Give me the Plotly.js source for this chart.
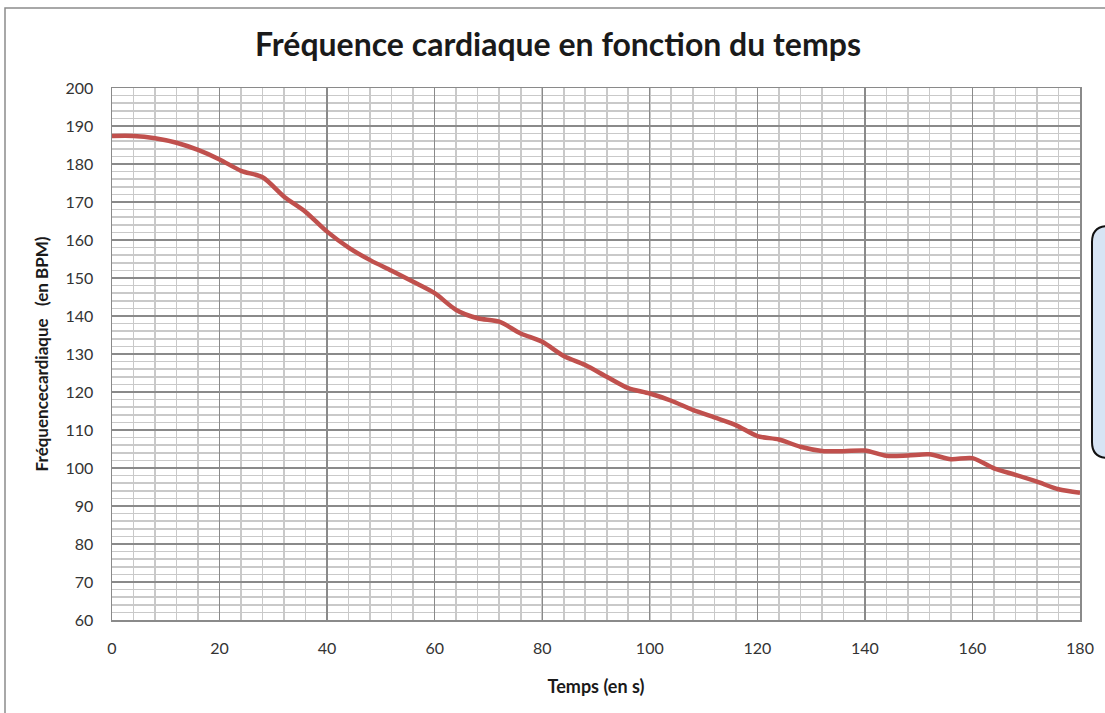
<!DOCTYPE html>
<html>
<head>
<meta charset="utf-8">
<script src="https://cdn.plot.ly/plotly-3.0.1.min.js"></script>
<style>html,body{margin:0;padding:0;background:#fff;}#chart{width:1105px;height:713px;}</style>
</head>
<body>
<div id="chart"></div>
<script>
// Data
const temps = [0,4,8,12,16,20,24,28,32,36,40,44,48,52,56,60,64,68,72,76,80,84,88,92,96,100,104,108,112,116,120,124,128,132,136,140,144,148,152,156,160,164,168,172,176,180];
const frequence = [187.4,187.4,186.8,185.6,183.7,181.2,178.2,176.5,171.4,167.4,162.2,158,154.7,151.9,149,146,141.6,139.4,138.5,135.4,133.2,129.5,127.1,124,121,119.6,117.7,115.3,113.3,111.3,108.4,107.5,105.6,104.5,104.4,104.6,103.2,103.3,103.6,102.3,102.6,99.9,98.2,96.4,94.4,93.5];
const xTicks = [0,20,40,60,80,100,120,140,160,180];
const yTicks = [60,70,80,90,100,110,120,130,140,150,160,170,180,190,200];

const FONT = 'Lato, "Open Sans", sans-serif';
const L = 112, R = 1080, T = 88, B = 620;
const px = v => (v - L) / (R - L);
const py = v => (B - v) / (B - T);

const trace = {
  x: temps, y: frequence, type: 'scatter', mode: 'lines',
  line: {color: '#C0504D', width: 4.5, shape: 'spline', smoothing: 0.8},
  hoverinfo: 'skip', showlegend: false
};

// rounded box at right (partly cut off)
const bx0 = px(1092), bx1 = px(1130), by0 = py(458), by1 = py(226);
const rx = 16 / (R - L), ry = 16 / (B - T);
const boxPath = `M ${bx1} ${by1} L ${bx0 + rx} ${by1} Q ${bx0} ${by1} ${bx0} ${by1 - ry} L ${bx0} ${by0 + ry} Q ${bx0} ${by0} ${bx0 + rx} ${by0} L ${bx1} ${by0} Z`;

const layout = {
  width: 1105, height: 713,
  margin: {l: L, r: 1105 - R, t: T, b: 713 - B, pad: 0},
  paper_bgcolor: '#ffffff', plot_bgcolor: '#ffffff',
  font: {family: FONT, color: '#333333', size: 16},
  title: {
    text: '<b>Fréquence cardiaque en fonction du temps</b>',
    font: {family: FONT, size: 32, color: '#1a1a1a'},
    x: 558 / 1105, xref: 'container', xanchor: 'center',
    y: 1 - 45 / 713, yref: 'container', yanchor: 'middle'
  },
  xaxis: {
    range: [0, 180], tickvals: xTicks, ticktext: xTicks.map(String),
    showgrid: true, gridcolor: '#8a8a8a', gridwidth: 1.3,
    minor: {dtick: 4, tick0: 0, showgrid: true, gridcolor: '#c9c9c9', gridwidth: 1.6, ticks: ''},
    showline: true, linecolor: '#8a8a8a', linewidth: 1.5, mirror: true,
    ticks: '', ticklabelstandoff: 13, zeroline: false,
    tickfont: {family: FONT, size: 16, color: '#333333'},
    title: {text: '<b>Temps (en s)</b>', font: {family: FONT, size: 18, color: '#1a1a1a'}, standoff: 24},
    fixedrange: true
  },
  yaxis: {
    range: [60, 200], tickvals: yTicks, ticktext: yTicks.map(String),
    showgrid: true, gridcolor: '#8a8a8a', gridwidth: 1.3,
    minor: {dtick: 2, tick0: 60, showgrid: true, gridcolor: '#c9c9c9', gridwidth: 1.6, ticks: ''},
    showline: true, linecolor: '#8a8a8a', linewidth: 1.5, mirror: true,
    ticks: '', ticklabelstandoff: 14, zeroline: false,
    tickfont: {family: FONT, size: 16, color: '#333333'},
    title: {text: '<b>Fréquencecardiaque   (en BPM)</b>', font: {family: FONT, size: 17, color: '#1a1a1a'}, standoff: 12},
    fixedrange: true
  },
  shapes: [
    {type: 'rect', xref: 'paper', yref: 'paper', x0: px(5), x1: px(1200), y0: py(800), y1: py(8),
     line: {color: '#8c8c8c', width: 1.5}, fillcolor: 'rgba(0,0,0,0)', layer: 'below'},
    {type: 'path', xref: 'paper', yref: 'paper', path: boxPath,
     line: {color: '#111111', width: 2}, fillcolor: '#D7E4F4', layer: 'above'}
  ]
};

Plotly.newPlot('chart', [trace], layout, {displayModeBar: false, staticPlot: true});
</script>
</body>
</html>
